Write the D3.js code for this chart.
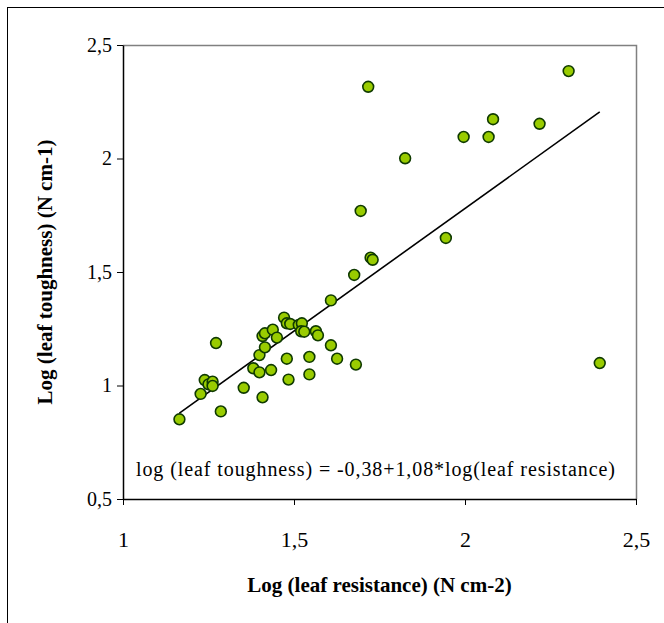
<!DOCTYPE html>
<html>
<head>
<meta charset="utf-8">
<script src="https://cdn.jsdelivr.net/npm/d3@7"></script>
<style>
  html, body { margin: 0; padding: 0; background: #fff; }
  svg { display: block; }
  svg text { font-family: "Liberation Serif", "Tinos", "Times New Roman", "DejaVu Serif", serif !important; fill: #000; }
</style>
</head>
<body>
<svg id="chart" width="664" height="623"></svg>
<script>
'use strict';

// log(leaf resistance), N cm-2
const resistance = [
  1.165, 1.227, 1.239, 1.250, 1.262, 1.262, 1.272, 1.286, 1.353, 1.408,
  1.381, 1.399, 1.399, 1.415, 1.408, 1.415, 1.433, 1.438, 1.450, 1.471,
  1.479, 1.489, 1.479, 1.484, 1.514, 1.523, 1.521, 1.530, 1.564, 1.570,
  1.545, 1.545, 1.608, 1.608, 1.626, 1.681, 1.676, 1.717, 1.695, 1.724,
  1.730, 1.825, 1.996, 2.069, 2.082, 2.218, 2.303, 1.944, 2.394
];
// log(leaf toughness), N cm-1
const toughness = [
  0.851, 0.963, 1.024, 1.005, 1.017, 0.998, 1.187, 0.886, 0.990, 0.948,
  1.076, 1.058, 1.134, 1.168, 1.218, 1.230, 1.068, 1.246, 1.211, 1.299,
  1.274, 1.271, 1.118, 1.026, 1.267, 1.274, 1.239, 1.237, 1.239, 1.221,
  1.126, 1.049, 1.177, 1.375, 1.118, 1.092, 1.487, 2.316, 1.769, 1.563,
  1.554, 2.001, 2.095, 2.095, 2.173, 2.153, 2.385, 1.650, 1.099
];

const fitIntercept = -0.38;
const fitSlope = 1.08;
const fitLabel = 'log (leaf toughness) = -0,38+1,08*log(leaf resistance)';

const xTicks = [1, 1.5, 2, 2.5];
const yTicks = [0.5, 1, 1.5, 2, 2.5];
const xTitle = 'Log (leaf resistance) (N cm-2)';
const yTitle = 'Log (leaf toughness) (N cm-1)';

const plot = { left: 123, top: 45, right: 636, bottom: 499 };
const fmt = (v) => String(v).replace('.', ',');

const svg = d3.select('#chart');

// outer chart frame (only left/top edges fall inside the window)
svg.append('rect')
  .attr('x', 7.5).attr('y', 7.5)
  .attr('width', 700).attr('height', 700)
  .attr('fill', 'none').attr('stroke', '#000').attr('stroke-width', 1);

const x = d3.scaleLinear().domain([1, 2.5]).range([plot.left, plot.right]);
const y = d3.scaleLinear().domain([0.5, 2.5]).range([plot.bottom, plot.top]);

// plot area border (grey top/right)
svg.append('path')
  .attr('d', `M${plot.left},${plot.top + 0.5}H${plot.right + 0.5}V${plot.bottom}`)
  .attr('fill', 'none').attr('stroke', '#808080').attr('stroke-width', 1.5);

const xAxis = svg.append('g')
  .attr('transform', `translate(0,${plot.bottom})`)
  .call(d3.axisBottom(x).tickValues(xTicks).tickFormat(fmt).tickSize(6).tickSizeOuter(0));
xAxis.attr('font-family', null);
xAxis.select('.domain').attr('stroke-width', 1.5);
xAxis.selectAll('.tick text')
  .attr('y', 32)
  .attr('font-size', 22);

const yAxis = svg.append('g')
  .attr('transform', `translate(${plot.left},0)`)
  .call(d3.axisLeft(y).tickValues(yTicks).tickFormat(fmt).tickSize(6).tickSizeOuter(0));
yAxis.attr('font-family', null);
yAxis.select('.domain').attr('stroke-width', 1.5);
yAxis.selectAll('.tick text')
  .attr('x', -11)
  .attr('font-size', 20);

// regression line over the data range
const xr = d3.extent(resistance);
svg.append('line')
  .attr('x1', x(xr[0])).attr('y1', y(fitIntercept + fitSlope * xr[0]))
  .attr('x2', x(xr[1])).attr('y2', y(fitIntercept + fitSlope * xr[1]))
  .attr('stroke', '#000').attr('stroke-width', 1.6);

svg.append('g')
  .selectAll('circle')
  .data(resistance.map((r, i) => [r, toughness[i]]))
  .join('circle')
  .attr('cx', (d) => x(d[0]))
  .attr('cy', (d) => y(d[1]))
  .attr('r', 5.4)
  .attr('fill', '#99cc00')
  .attr('stroke', '#0f3a00')
  .attr('stroke-width', 1.6);

svg.append('text')
  .attr('x', 136).attr('y', 476)
  .attr('font-size', 20)
  .attr('textLength', 479)
  .attr('lengthAdjust', 'spacing')
  .text(fitLabel);

svg.append('text')
  .attr('x', (plot.left + plot.right) / 2).attr('y', 592)
  .attr('text-anchor', 'middle')
  .attr('font-size', 21)
  .attr('font-weight', 'bold')
  .text(xTitle);

svg.append('text')
  .attr('transform', `translate(52,${(plot.top + plot.bottom) / 2}) rotate(-90)`)
  .attr('text-anchor', 'middle')
  .attr('font-size', 21)
  .attr('font-weight', 'bold')
  .text(yTitle);
</script>
</body>
</html>
